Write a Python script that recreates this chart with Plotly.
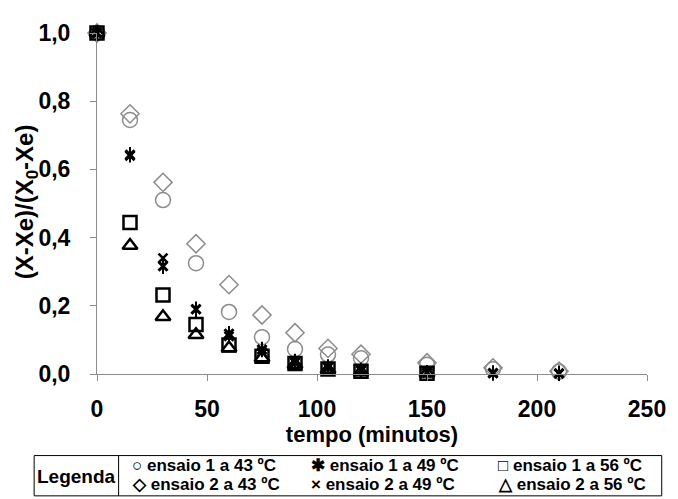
import plotly.graph_objects as go

# ---- data ----
tempo = [0, 15, 30, 45, 60, 75, 90, 105, 120, 150, 180, 210]
tempo_56 = [0, 15, 30, 45, 60, 75, 90, 105, 120, 150]
e1_43 = [1.0, 0.745, 0.510, 0.325, 0.182, 0.108, 0.073, 0.057, 0.046, 0.027, 0.014, 0.007]
e2_43 = [1.0, 0.763, 0.562, 0.382, 0.262, 0.173, 0.121, 0.075, 0.058, 0.033, 0.018, 0.008]
e1_49 = [1.0, 0.643, 0.316, 0.190, 0.118, 0.072, 0.037, 0.021, 0.011, 0.004, 0.003, 0.002]
e2_49 = [1.0, 0.640, 0.340, 0.190, 0.110, 0.065, 0.033, 0.018, 0.009, 0.003, 0.002, 0.001]
e1_56 = [1.0, 0.444, 0.232, 0.145, 0.085, 0.052, 0.031, 0.015, 0.008, 0.002]
e2_56 = [1.0, 0.377, 0.168, 0.115, 0.076, 0.047, 0.028, 0.013, 0.006, 0.002]
x_ticks = [0, 50, 100, 150, 200, 250]
y_ticks = [0.0, 0.2, 0.4, 0.6, 0.8, 1.0]
legend_rows = [["○ ensaio 1 a 43 ºC", "✱ ensaio 1 a 49 ºC", "□ ensaio 1 a 56 ºC"],
               ["◇ ensaio 2 a 43 ºC", "× ensaio 2 a 49 ºC", "△ ensaio 2 a 56 ºC"]]

# the page body has an 8px margin, so the figure is drawn 8px smaller
# and all page coordinates are shifted by OFF
OFF = 8
W, H = 678 - OFF, 499 - OFF
L, R, T = 97 - OFF, 21, 27 - OFF
B = H - (374 - OFF)
PW, PH = W - L - R, H - T - B


def px(x):  # page x -> paper
    return (x - OFF - L) / PW


def py(y):  # page y -> paper
    return (H - B - (y - OFF)) / PH


GRAY = "#8c8c8c"
fig = go.Figure()


def add(x, y, symbol, size, color, lw):
    fig.add_trace(go.Scatter(
        x=x, y=y, mode="markers", showlegend=False, cliponaxis=False,
        marker=dict(symbol=symbol, size=size, color=color,
                    line=dict(color=color, width=lw))))


add(tempo, e1_43, "circle-open", 15, GRAY, 1.5)
add(tempo, e2_43, "diamond-open", 14, GRAY, 1.5)
add(tempo_56, e1_56, "square-open", 13, "black", 2.5)
add(tempo_56, e2_56, "triangle-up-open", 13, "black", 2.5)
add(tempo, e2_49, "x-thin-open", 9, "black", 2.5)
add(tempo, e1_49, "x-thin-open", 9, "black", 3)
add(tempo, e1_49, "line-ns-open", 11, "black", 2)

font_family = "Liberation Sans, Arial, sans-serif"
fig.update_layout(
    width=W, height=H, margin=dict(l=L, r=R, t=T, b=B),
    paper_bgcolor="white", plot_bgcolor="white", separators=",.",
    font=dict(family=font_family, color="black"),
    xaxis=dict(range=[0, 250], tickvals=x_ticks, ticks="outside", ticklen=6,
               tickcolor=GRAY, showline=True, linecolor=GRAY, linewidth=1,
               showgrid=False, zeroline=False,
               tickfont=dict(size=23, family=font_family, weight="bold"),
               ticklabelstandoff=8,
               title=dict(text="<b>tempo (minutos)</b>", font=dict(size=22), standoff=0)),
    yaxis=dict(range=[0, 1], tickvals=y_ticks, tickformat=".1f", ticks="outside", ticklen=6,
               tickcolor=GRAY, showline=True, linecolor=GRAY, linewidth=1,
               showgrid=False, zeroline=False,
               tickfont=dict(size=23, family=font_family, weight="bold"),
               ticklabelstandoff=15),
)

fig.add_annotation(x=px(25), y=py(199), xref="paper", yref="paper", textangle=-90,
                   text="<b>(X-Xe)/(X<sub>0</sub>-Xe)</b>", showarrow=False,
                   font=dict(size=24), xanchor="center", yanchor="middle")

# legend table
fig.add_shape(type="rect", xref="paper", yref="paper", x0=px(33), x1=px(672),
              y0=py(498), y1=py(457), line=dict(color="black", width=1))
fig.add_shape(type="line", xref="paper", yref="paper", x0=px(119), x1=px(119),
              y0=py(498), y1=py(457), line=dict(color="black", width=1))
fig.add_annotation(x=px(76), y=py(478), xref="paper", yref="paper", text="<b>Legenda</b>",
                   showarrow=False, font=dict(size=19), xanchor="center", yanchor="middle")
col_x = [131, 313, 503]
row_y = [467, 486]
for r, row in enumerate(legend_rows):
    for c, label in enumerate(row):
        fig.add_annotation(x=px(col_x[c]), y=py(row_y[r]), xref="paper", yref="paper",
                           text="<b>" + label + "</b>", showarrow=False,
                           font=dict(size=17), xanchor="left", yanchor="middle")

fig.write_html("out.html")
